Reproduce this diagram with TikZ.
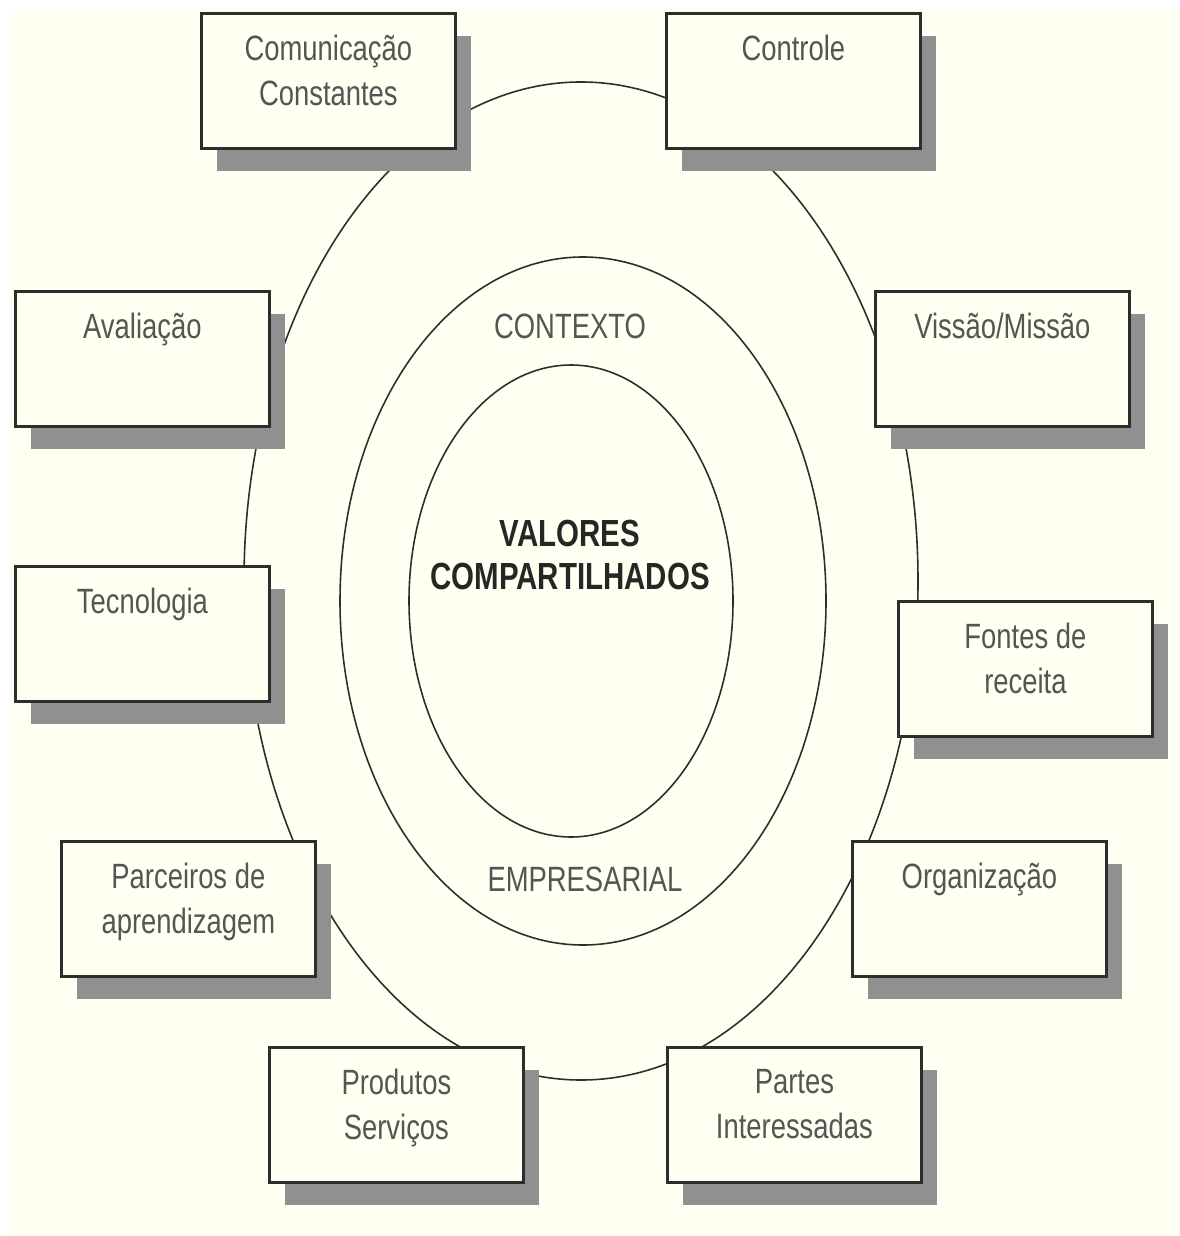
\documentclass[tikz,border=0pt]{standalone}
\usepackage{fontspec}
\setmainfont{Liberation Sans}
\newfontfamily\boxfont[FakeStretch=0.78]{Liberation Sans}
\usepackage{tikz}
\usetikzlibrary{shadows}
\definecolor{cream}{RGB}{255,255,242}
\definecolor{shade}{RGB}{144,144,144}
\definecolor{edge}{RGB}{45,45,45}
\definecolor{label}{RGB}{85,85,85}
\newcommand{\boxtext}[1]{\parbox[c][2.7cm][t]{5.08cm}{\centering\vspace*{0.44cm}#1}}

\begin{document}
\begin{tikzpicture}
[x=0.02cm, y=-0.02cm, font=\boxfont\fontsize{20}{25.6}\selectfont,
box/.style={draw=edge, line width=1.6pt, fill=cream, inner sep=0pt,
  anchor=north west, text=label,
  drop shadow={shadow xshift=0.31cm, shadow yshift=-0.46cm, fill=shade, opacity=1}},
ring/.style={draw=edge, line width=0.9pt}]
\useasboundingbox (0,0) rectangle (1179,1236);
\fill[cream] (11,8) rectangle (1179,1236);

\draw[ring] (581,581) ellipse [x radius=337, y radius=499];
\draw[ring] (583,601) ellipse [x radius=243, y radius=344];
\draw[ring] (571,601) ellipse [x radius=162, y radius=236];

\node (ctx) at (570,326) [text=label] {CONTEXTO};
\node (emp) at (585,879) [text=label] {EMPRESARIAL};
\node (val) at (570,555) [align=center, text=black!85,
  font=\boxfont\bfseries\fontsize{21.5}{25}\selectfont] {VALORES\\COMPARTILHADOS};

\node (com) at (200,12) [box] {\boxtext{Comunicação\\Constantes}};
\node (ctrl) at (665,12) [box] {\boxtext{Controle}};
\node (aval) at (14,290) [box] {\boxtext{Avaliação}};
\node (miss) at (874,290) [box] {\boxtext{Vissão/Missão}};
\node (tec) at (14,565) [box] {\boxtext{Tecnologia}};
\node (font) at (897,600) [box] {\boxtext{Fontes de\\receita}};
\node (parc) at (60,840) [box] {\boxtext{Parceiros de\\aprendizagem}};
\node (org) at (851,840) [box] {\boxtext{Organização}};
\node (prod) at (268,1046) [box] {\boxtext{Produtos\\Serviços}};
\node (part) at (666,1046) [box] {\boxtext{Partes\\Interessadas}};

\end{tikzpicture}
\end{document}
